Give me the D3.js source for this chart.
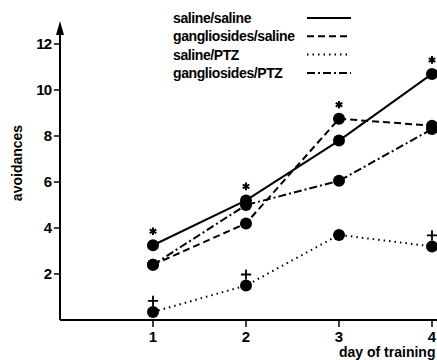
<!DOCTYPE html>
<html>
<head>
<meta charset="utf-8">
<script src="https://cdn.jsdelivr.net/npm/d3@7"></script>
<style>
  body { margin: 0; background: #fff; }
  text { font-family: "Liberation Sans", sans-serif; font-weight: bold; fill: #000; }
</style>
</head>
<body>
<div id="chart-area"></div>
<script>
// ----------------- Data -----------------
const days = [1, 2, 3, 4];
const series_names = ["saline/saline", "gangliosides/saline", "saline/PTZ", "gangliosides/PTZ"];
const saline_saline = [3.25, 5.2, 7.8, 10.7];
const gangliosides_saline = [2.4, 4.2, 8.75, 8.45];
const saline_ptz = [0.35, 1.5, 3.7, 3.2];
const gangliosides_ptz = [2.4, 5.0, 6.05, 8.3];
const y_ticks = [2, 4, 6, 8, 10, 12];
// significance marks: [series index, day]
const asterisks = [[0, 1], [0, 2], [1, 3], [0, 4]];
const pluses = [[2, 1], [2, 2], [2, 4]];

const all_series = [saline_saline, gangliosides_saline, saline_ptz, gangliosides_ptz];
const dashes = [null, "7,4", "1.5,4", "8,3,2,3"];

let svg = d3.select("#chart-area")
  .append("svg")
    .attr("width", 437)
    .attr("height", 360)

let x = d3.scaleLinear().domain([0, 4]).range([60, 432])
let y = d3.scaleLinear().domain([0, 12]).range([320, 44])

// ----------------- Axes -----------------
svg.append("line")
  .attr("x1", x(0)).attr("x2", 437)
  .attr("y1", y(0)).attr("y2", y(0))
  .attr("stroke", "#000").attr("stroke-width", 2)

svg.append("line")
  .attr("x1", x(0)).attr("x2", x(0))
  .attr("y1", y(0)).attr("y2", 30)
  .attr("stroke", "#000").attr("stroke-width", 2)

// arrow head
svg.append("path")
  .attr("d", `M${x(0)},21 L${x(0) - 4},35 L${x(0) + 4},35 Z`)
  .attr("fill", "#000")

svg.selectAll(".ytick")
  .data(y_ticks)
  .enter().append("line")
    .attr("x1", x(0) - 6).attr("x2", x(0))
    .attr("y1", d => y(d)).attr("y2", d => y(d))
    .attr("stroke", "#000").attr("stroke-width", 1.5)

svg.selectAll(".ylabel")
  .data(y_ticks)
  .enter().append("text")
    .attr("x", x(0) - 9)
    .attr("y", d => y(d) + 5)
    .attr("text-anchor", "end")
    .attr("font-size", "15px")
    .attr("letter-spacing", "-1px")
    .text(d => d)

svg.selectAll(".xtick")
  .data(days)
  .enter().append("line")
    .attr("x1", d => x(d)).attr("x2", d => x(d))
    .attr("y1", y(0)).attr("y2", y(0) + 7)
    .attr("stroke", "#000").attr("stroke-width", 1.5)

svg.selectAll(".xlabel")
  .data(days)
  .enter().append("text")
    .attr("x", d => x(d))
    .attr("y", y(0) + 22)
    .attr("text-anchor", "middle")
    .attr("font-size", "15px")
    .text(d => d)

svg.append("text")
  .attr("x", 339)
  .attr("y", 357)
  .attr("font-size", "14px")
  .text("day of training")

svg.append("text")
  .attr("transform", "translate(22, 163) rotate(-90)")
  .attr("text-anchor", "middle")
  .attr("font-size", "14px")
  .text("avoidances")

// ----------------- Lines -----------------
let line = d3.line()
  .x((d, i) => x(days[i]))
  .y(d => y(d))

all_series.forEach((s, k) => {
  svg.append("path")
    .attr("d", line(s))
    .attr("fill", "none")
    .attr("stroke", "#000")
    .attr("stroke-width", 2)
    .attr("stroke-dasharray", dashes[k])

  svg.selectAll(".dot" + k)
    .data(s)
    .enter().append("circle")
      .attr("cx", (d, i) => x(days[i]))
      .attr("cy", d => y(d))
      .attr("r", 6)
      .attr("fill", "#000")
})

// asterisks
svg.selectAll(".ast")
  .data(asterisks)
  .enter().append("path")
    .attr("transform", d => `translate(${x(d[1])}, ${y(all_series[d[0]][d[1] - 1]) - 14})`)
    .attr("d", d3.symbol(d3.symbolAsterisk, 40)())
    .attr("fill", "none")
    .attr("stroke", "#000")
    .attr("stroke-width", 2)

// plus signs
svg.selectAll(".plus")
  .data(pluses)
  .enter().append("path")
    .attr("transform", d => `translate(${x(d[1])}, ${y(all_series[d[0]][d[1] - 1]) - 11})`)
    .attr("d", d3.symbol(d3.symbolPlus, 36)())
    .attr("fill", "none")
    .attr("stroke", "#000")
    .attr("stroke-width", 1.8)

// ----------------- Legend -----------------
let legend = svg.selectAll(".legend")
  .data(series_names)
  .enter().append("g")
    .attr("transform", (d, i) => `translate(0, ${18 + i * 18.3})`)

legend.append("text")
  .attr("x", 173)
  .attr("y", 5)
  .attr("font-size", "14px")
  .attr("letter-spacing", "-0.4px")
  .text(d => d)

legend.append("line")
  .attr("x1", 307).attr("x2", 351)
  .attr("y1", 0).attr("y2", 0)
  .attr("stroke", "#000")
  .attr("stroke-width", 2)
  .attr("stroke-dasharray", (d, i) => dashes[i])
</script>
</body>
</html>
